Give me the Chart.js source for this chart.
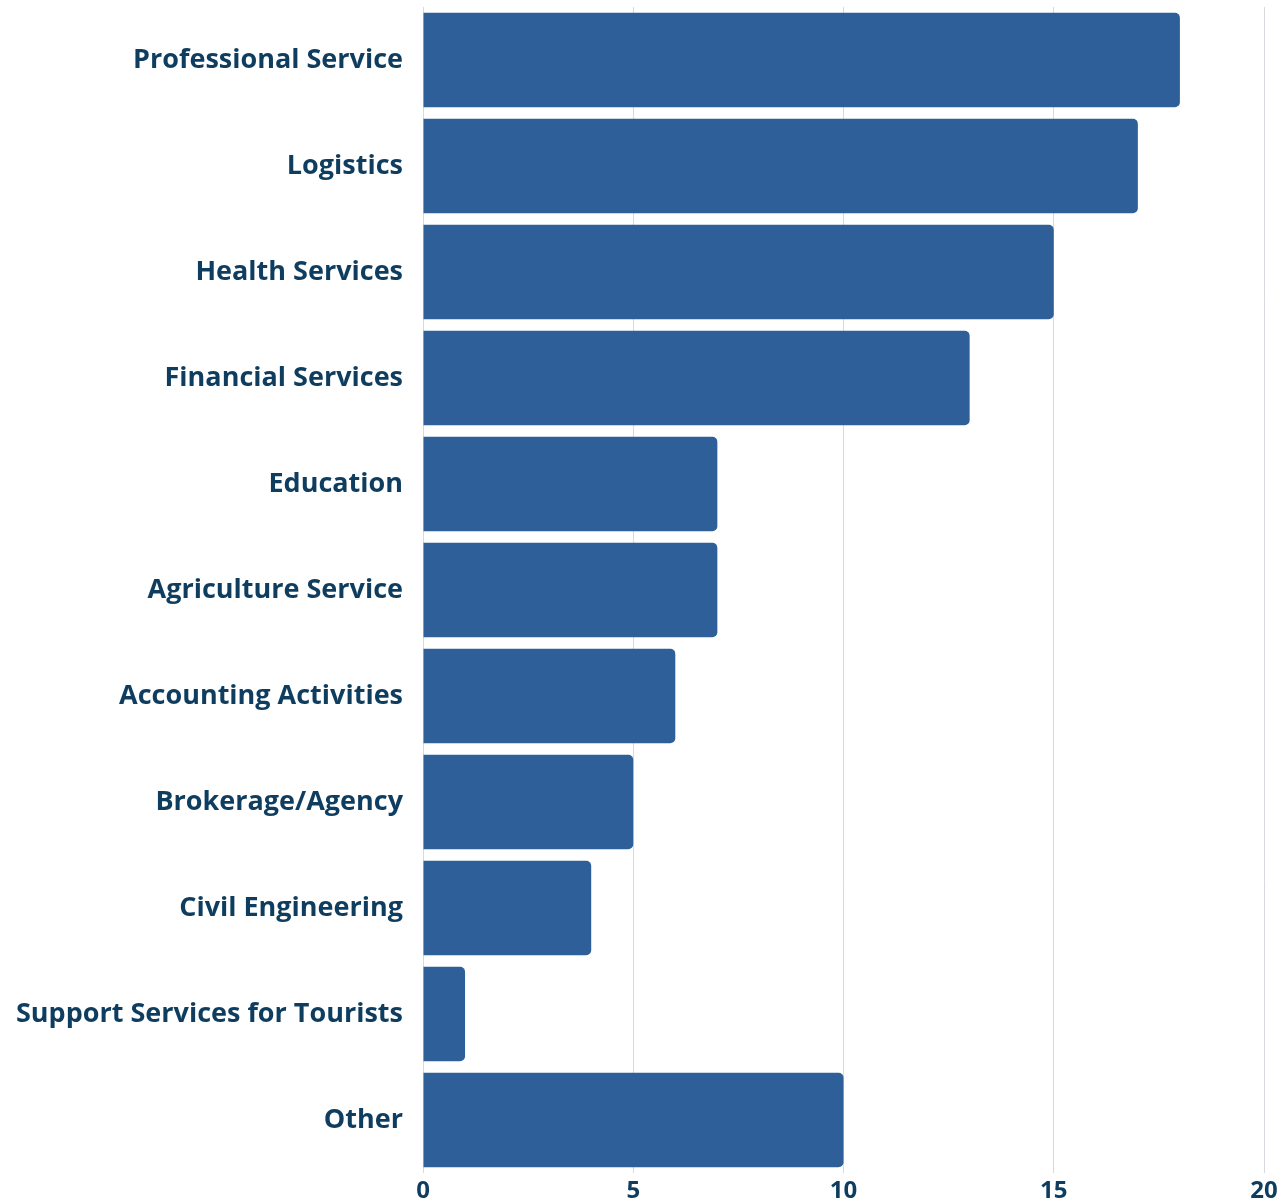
<!DOCTYPE html>
<html>
<head>
<meta charset="utf-8">
<script src="https://cdn.jsdelivr.net/npm/chart.js@4"></script>
<style>
  body { margin: 0; background: #fff; }
  #wrap { width: 1287px; height: 1203px; }
</style>
</head>
<body>
<div id="wrap"><canvas id="sectorChart"></canvas></div>
<script>
    // categories and counts
    const sectors = ['Professional Service', 'Logistics', 'Health Services', 'Financial Services',
        'Education', 'Agriculture Service', 'Accounting Activities', 'Brokerage/Agency',
        'Civil Engineering', 'Support Services for Tourists', 'Other'];
    const counts = [18, 17, 15, 13, 7, 7, 6, 5, 4, 1, 10];
    const xTicks = [0, 5, 10, 15, 20];

    const textColor = '#0e3d5f';
    const ctx = document.getElementById('sectorChart').getContext('2d');

    const sectorChart = new Chart(ctx, {
        type: 'bar',
        data: {
            labels: sectors,
            datasets: [{
                data: counts,
                backgroundColor: '#2f5f98',
                borderWidth: 0,
                borderRadius: 5,
                borderSkipped: 'start',
                barPercentage: 0.89,
                categoryPercentage: 1
            }]
        },
        options: {
            indexAxis: 'y',
            responsive: true,
            maintainAspectRatio: false,
            animation: false,
            layout: { padding: { top: 7, right: 23, bottom: 0, left: 0 } },
            plugins: {
                legend: { display: false },
                tooltip: { enabled: false }
            },
            scales: {
                x: {
                    min: xTicks[0],
                    max: xTicks[xTicks.length - 1],
                    afterBuildTicks: s => { s.ticks = xTicks.map(v => ({ value: v })); },
                    afterFit: s => { s.height = 30; },
                    grid: { color: '#d6d9dd', lineWidth: 1, drawTicks: false },
                    border: { display: false },
                    ticks: {
                        color: textColor,
                        padding: 4,
                        font: { family: 'Open Sans', weight: 'bold', size: 24 }
                    }
                },
                y: {
                    // pin the plot's left edge where the reference has it
                    afterFit: s => { s.width = 423; s.paddingTop = 0; s.paddingBottom = 0; },
                    grid: { display: false },
                    border: { display: false },
                    ticks: {
                        color: textColor,
                        padding: 12,
                        font: { family: 'Open Sans', weight: 'bold', size: 27 }
                    }
                }
            }
        }
    });
</script>
</body>
</html>
